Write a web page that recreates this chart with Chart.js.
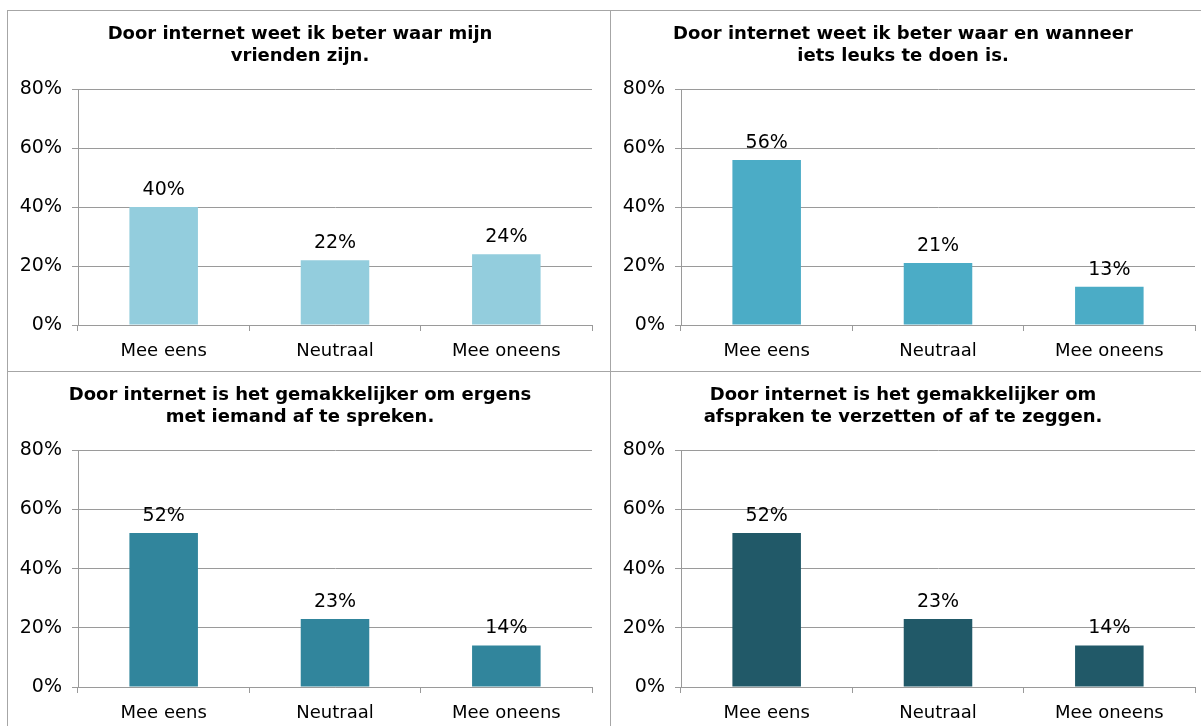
<!DOCTYPE html>
<html>
<head>
<meta charset="utf-8">
<script src="https://cdn.jsdelivr.net/npm/chart.js@4.4.1/dist/chart.umd.min.js"></script>
<style>
    html, body { margin: 0; padding: 0; width: 1201px; height: 726px; overflow: hidden; background: #fff; }
    .panel { position: absolute; box-sizing: border-box; width: 604px; height: 362px; border: 1px solid #a6a6a6; background: #fff; overflow: hidden; }
    .panel canvas { display: block; }
    #p1 { left: 7px; top: 10px; }
    #p2 { left: 610px; top: 10px; }
    #p3 { left: 7px; top: 371px; }
    #p4 { left: 610px; top: 371px; }
</style>
</head>
<body>
<div class="panel" id="p1"><canvas id="c1"></canvas></div>
<div class="panel" id="p2"><canvas id="c2"></canvas></div>
<div class="panel" id="p3"><canvas id="c3"></canvas></div>
<div class="panel" id="p4"><canvas id="c4"></canvas></div>
<script>
// Data
const categories = ['Mee eens', 'Neutraal', 'Mee oneens'];
const yTicks = [0, 20, 40, 60, 80];

const vriendenTitle = ['Door internet weet ik beter waar mijn', 'vrienden zijn.'];
const vriendenValues = [40, 22, 24];

const leuksTitle = ['Door internet weet ik beter waar en wanneer', 'iets leuks te doen is.'];
const leuksValues = [56, 21, 13];

const afsprekenTitle = ['Door internet is het gemakkelijker om ergens', 'met iemand af te spreken.'];
const afsprekenValues = [52, 23, 14];

const verzettenTitle = ['Door internet is het gemakkelijker om', 'afspraken te verzetten of af te zeggen.'];
const verzettenValues = [52, 23, 14];

const FONT = 'DejaVu Sans, Verdana, sans-serif';
const GRID = '#9a9a9a';

// Draws the value above each bar
const valueLabels = {
    id: 'valueLabels',
    afterDatasetsDraw(chart) {
        const ctx = chart.ctx;
        const meta = chart.getDatasetMeta(0);
        const values = chart.data.datasets[0].data;
        ctx.save();
        ctx.font = '19px ' + FONT;
        ctx.fillStyle = '#000';
        ctx.textAlign = 'center';
        ctx.textBaseline = 'middle';
        meta.data.forEach(function(bar, i) {
            ctx.fillText(values[i] + '%', bar.x, bar.y - 17);
        });
        ctx.restore();
    }
};

function makeChart(id, title, values, color, xHeight) {
    const ctx = document.getElementById(id).getContext('2d');
    return new Chart(ctx, {
        type: 'bar',
        data: {
            labels: categories,
            datasets: [{
                data: values,
                backgroundColor: color,
                barPercentage: 0.5,
                categoryPercentage: 0.8
            }]
        },
        options: {
            responsive: true,
            maintainAspectRatio: false,
            animation: false,
            layout: { padding: { left: 0, right: 18, top: 0, bottom: 0 } },
            plugins: {
                legend: { display: false },
                tooltip: { enabled: false },
                title: {
                    display: true,
                    text: title,
                    color: '#000',
                    font: { family: FONT, size: 18, weight: 'bold', lineHeight: 1.2 },
                    padding: { top: 13, bottom: 22 }
                }
            },
            scales: {
                x: {
                    grid: { drawOnChartArea: false, drawTicks: true, tickLength: 6, color: GRID },
                    border: { color: GRID },
                    ticks: { color: '#000', font: { family: FONT, size: 18 }, padding: 10, maxRotation: 0 },
                    afterFit: function(scale) { scale.height = xHeight; }
                },
                y: {
                    min: yTicks[0],
                    max: yTicks[yTicks.length - 1],
                    afterBuildTicks: function(scale) {
                        scale.ticks = yTicks.map(v => ({ value: v }));
                    },
                    grid: { color: GRID, tickLength: 6 },
                    border: { color: GRID },
                    ticks: {
                        color: '#000',
                        font: { family: FONT, size: 19 },
                        padding: 10,
                        callback: function(value) { return value + '%'; }
                    },
                    afterFit: function(scale) { scale.width = 70; }
                }
            }
        },
        plugins: [valueLabels]
    });
}

makeChart('c1', vriendenTitle, vriendenValues, '#93CDDD', 46);
makeChart('c2', leuksTitle, leuksValues, '#4BACC6', 46);
makeChart('c3', afsprekenTitle, afsprekenValues, '#31859C', 45);
makeChart('c4', verzettenTitle, verzettenValues, '#215968', 45);
</script>
</body>
</html>
